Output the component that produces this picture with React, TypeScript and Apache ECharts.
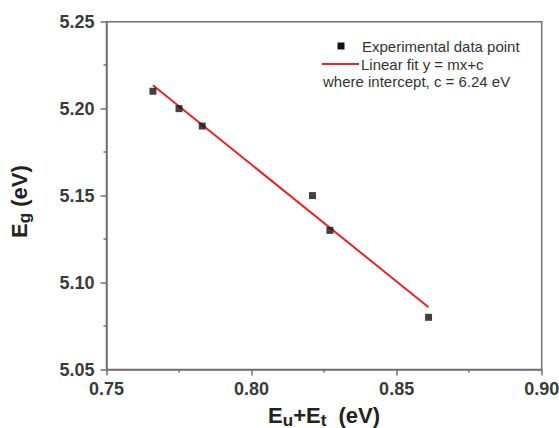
import React, { useEffect, useRef } from "react";
import * as echarts from "echarts";

const sumEnergy = [0.766, 0.775, 0.783, 0.821, 0.827, 0.861];
const bandGap = [5.21, 5.2, 5.19, 5.15, 5.13, 5.08];
const fitX = [0.766, 0.861];
const fitY = [5.2135, 5.0858];
const xTicks = { min: 0.75, max: 0.9, interval: 0.05 };
const yTicks = { min: 5.05, max: 5.25, interval: 0.05 };
const legendTexts = ["Experimental data point", "Linear fit y = mx+c", "where intercept, c = 6.24 eV"];

const FONT = "'Liberation Sans', Arial, sans-serif";

export default function App() {
  const ref = useRef<HTMLDivElement>(null);
  useEffect(() => {
    if (!ref.current) return;
    const chart = echarts.init(ref.current, undefined, { renderer: "svg" });
    const nameRich = {
      b: { fontSize: 22, fontWeight: "bold", fontFamily: FONT, color: "#222", lineHeight: 24, verticalAlign: "top" },
      s: { fontSize: 17, fontWeight: "bold", fontFamily: FONT, color: "#222", lineHeight: 11, verticalAlign: "bottom" },
    };
    chart.setOption({
      animation: false,
      backgroundColor: "#fff",
      grid: {
        left: 106.5,
        right: 17.3,
        top: 21.7,
        bottom: 58.5,
        containLabel: false,
        outerBoundsMode: "none",
        show: true,
        borderColor: "#707070",
        borderWidth: 1.5,
        backgroundColor: "transparent",
      },
      xAxis: {
        type: "value",
        min: xTicks.min,
        max: xTicks.max,
        interval: xTicks.interval,
        name: "{b|E}{s|u}{b|+E}{s|t}{b|  (eV)}",
        nameLocation: "middle",
        nameGap: 35,
        nameTextStyle: { rich: nameRich },
        axisLine: { lineStyle: { color: "#707070", width: 1.5 } },
        axisTick: { inside: false, length: 6, lineStyle: { color: "#707070", width: 1.5 } },
        minorTick: { show: true, splitNumber: 2, length: 3, lineStyle: { color: "#707070", width: 1.5 } },
        splitLine: { show: false },
        axisLabel: {
          margin: 10,
          fontSize: 18,
          fontWeight: "bold",
          fontFamily: FONT,
          color: "#3a3a3a",
          formatter: (v: number) => v.toFixed(2),
        },
      },
      yAxis: {
        type: "value",
        min: yTicks.min,
        max: yTicks.max,
        interval: yTicks.interval,
        name: "{b|E}{s|g}{b| (eV)}",
        nameLocation: "middle",
        nameGap: 74,
        nameTextStyle: { rich: nameRich, padding: [0, 12, 0, 0] },
        axisLine: { show: true, lineStyle: { color: "#707070", width: 1.5 } },
        axisTick: { show: true, inside: false, length: 6, lineStyle: { color: "#707070", width: 1.5 } },
        minorTick: { show: true, splitNumber: 2, length: 3, lineStyle: { color: "#707070", width: 1.5 } },
        splitLine: { show: false },
        axisLabel: {
          margin: 12,
          fontSize: 18,
          fontWeight: "bold",
          fontFamily: FONT,
          color: "#3a3a3a",
          formatter: (v: number) => v.toFixed(2),
        },
      },
      series: [
        {
          name: legendTexts[1],
          type: "line",
          data: fitX.map((x, i) => [x, fitY[i]]),
          symbol: "none",
          lineStyle: { color: "#ee2222", width: 2 },
          z: 2,
        },
        {
          name: legendTexts[0],
          type: "scatter",
          data: sumEnergy.map((x, i) => [x, bandGap[i]]),
          symbol: "rect",
          symbolSize: 7,
          itemStyle: { color: "#111" },
          z: 3,
        },
      ],
      graphic: [
        { type: "rect", shape: { x: 337.5, y: 42.5, width: 7, height: 7 }, style: { fill: "#111" } },
        { type: "line", shape: { x1: 322, y1: 64, x2: 359, y2: 64 }, style: { stroke: "#ee2222", lineWidth: 2 } },
        {
          type: "text",
          x: 362,
          y: 46,
          style: { text: legendTexts[0], fontSize: 15, fontFamily: FONT, fill: "#333", verticalAlign: "middle" },
        },
        {
          type: "text",
          x: 361,
          y: 64,
          style: { text: legendTexts[1], fontSize: 15, fontFamily: FONT, fill: "#333", verticalAlign: "middle" },
        },
        {
          type: "text",
          x: 323,
          y: 81,
          style: { text: legendTexts[2], fontSize: 15, fontFamily: FONT, fill: "#333", verticalAlign: "middle" },
        },
      ],
    });
    return () => chart.dispose();
  }, []);
  return <div ref={ref} style={{ position: "fixed", left: 0, top: 0, width: 559, height: 428 }} />;
}
